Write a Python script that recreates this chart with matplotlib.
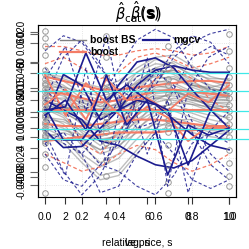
import matplotlib
matplotlib.use("Agg")
import matplotlib.pyplot as plt
from matplotlib.lines import Line2D

plt.rcParams['font.family'] = ['Liberation Sans', 'DejaVu Sans']

# ---------------- data ----------------
x_grid = [0.0, 0.1, 0.2, 0.3, 0.4, 0.5, 0.6, 0.7, 0.8, 0.9, 1.0]
lags = [1, 2, 3, 4, 5, 6, 7, 8, 9, 10]

grey_curves = [
    [1.5, 1.2, 0.6, 0.2, 0.6, 1.4, 1.9, 1.8, 1.3, 1.0, 0.9],
    [0.8, 0.5, 0.0, -0.4, 0.1, 0.9, 1.4, 1.3, 0.9, 0.7, 0.6],
    [-0.5, -0.8, -1.4, -1.8, -1.3, -0.4, 0.2, 0.3, 0.0, -0.2, -0.3],
    [0.2, -0.2, -1.0, -1.6, -1.0, 0.3, 1.1, 1.2, 0.8, 0.4, 0.3],
    [1.0, 0.9, 0.5, 0.3, 0.8, 1.8, 2.4, 2.2, 1.6, 1.1, 0.8],
    [-1.0, -1.3, -2.0, -2.6, -2.2, -1.3, -0.5, -0.3, -0.6, -0.9, -1.0],
    [0.4, 0.3, 0.1, 0.0, 0.2, 0.5, 0.7, 0.7, 0.5, 0.4, 0.4],
    [1.8, 1.4, 0.8, 0.5, 0.9, 1.6, 2.0, 1.7, 1.2, 1.1, 1.3],
    [-0.2, -0.6, -1.6, -2.4, -2.0, -0.9, 0.0, 0.4, 0.3, 0.0, -0.4],
    [0.6, 0.6, 0.4, 0.2, 0.3, 0.8, 1.2, 1.0, 0.6, 0.5, 0.5],
    [-1.2, -1.0, -1.3, -1.8, -1.6, -1.0, -0.6, -0.7, -1.0, -1.2, -1.3],
    [1.2, 0.8, -0.2, -1.0, -0.6, 0.6, 1.5, 1.6, 1.2, 0.9, 0.7],
    [0.0, -0.1, -0.5, -0.8, -0.4, 0.4, 0.9, 0.9, 0.6, 0.2, 0.0],
    [-0.8, -1.2, -2.2, -3.0, -2.8, -1.8, -0.8, -0.4, -0.4, -0.7, -0.9],
    [1.6, 1.5, 1.2, 1.0, 1.2, 1.8, 2.2, 2.1, 1.7, 1.5, 1.5],
    [0.3, 0.0, -0.6, -1.0, -0.6, 0.2, 0.8, 0.9, 0.7, 0.6, 0.7],
    [1.3, 1.0, 0.3, -0.3, 0.0, 1.0, 1.7, 1.9, 1.5, 1.2, 1.0],
    [0.9, 0.7, 0.2, -0.2, 0.2, 1.1, 1.8, 1.9, 1.4, 0.9, 0.6],
    [-0.3, -0.4, -0.8, -1.2, -0.9, -0.2, 0.4, 0.6, 0.4, 0.1, -0.1],
    [0.5, 0.2, -0.4, -0.9, -0.5, 0.5, 1.3, 1.5, 1.1, 0.8, 0.8],
    [1.1, 1.1, 0.9, 0.7, 0.9, 1.3, 1.6, 1.5, 1.2, 1.0, 1.0],
    [-0.7, -0.9, -1.1, -1.4, -1.1, -0.5, 0.0, 0.0, -0.3, -0.6, -0.8],
    [0.1, -0.3, -1.2, -2.0, -1.7, -0.6, 0.5, 0.9, 0.6, 0.2, 0.0],
    [1.4, 1.1, 0.4, 0.0, 0.4, 1.3, 2.0, 2.3, 1.9, 1.4, 1.1],
    [-0.1, 0.1, 0.2, 0.1, 0.3, 0.7, 1.0, 1.0, 0.8, 0.6, 0.5],
    [0.7, 0.3, -0.5, -1.3, -1.2, -0.2, 0.6, 0.8, 0.5, 0.3, 0.2],
    [-1.1, -1.5, -2.4, -3.2, -3.0, -2.0, -1.0, -0.6, -0.7, -1.0, -1.1],
    [1.7, 1.6, 1.3, 1.1, 1.4, 2.0, 2.5, 2.6, 2.1, 1.6, 1.4],
    [0.2, 0.2, 0.0, -0.2, 0.0, 0.4, 0.6, 0.5, 0.3, 0.2, 0.2],
    [-0.4, -0.5, -0.9, -1.4, -1.4, -0.8, -0.2, 0.1, -0.1, -0.4, -0.6],
]

circle_lags = [1, 4, 7, 10]
circle_vals = [
    [3.7, 3.4, 3.0, 2.6, 1.9, 1.7, 1.5, 1.3, 1.2, 1.0, 0.9, 0.7, 0.6, 0.4, 0.3, 0.1, 0.0, -0.2,
     -0.3, -0.5, -0.6, -0.8, -0.9, -1.1, -1.2, -1.4, -1.5, -2.0, -2.6, -3.8],
    [3.5, 2.5, 1.6, 1.3, 1.0, 0.8, 0.5, 0.3, 0.0, -0.3, -0.5, -0.8, -1.0, -1.5, -2.3, -3.0],
    [3.0, 2.0, 1.5, 1.2, 0.8, 0.4, 0.0, -0.4, -0.7, -1.0, -1.6, -2.5, -3.3, -3.8],
    [3.6, 2.8, 2.0, 1.6, 1.2, 0.9, 0.6, 0.3, 0.0, -0.3, -0.6, -0.9, -1.2, -1.8, -2.4, -3.0, -3.5],
]

cyan_levels = [1.77, 0.93, 0.0, -0.84, -1.3]

salmon_solid = [
    [0.05, 0.05, 0.05, 0.05, 0.05, 0.05, 0.05, 0.05, 0.05, 0.05, 0.05],
    [1.6, 1.4, 1.2, 1.0, 1.0, 1.1, 1.2, 1.3, 1.4, 1.4, 1.3],
    [-1.4, -1.3, -1.2, -1.1, -1.0, -1.0, -1.0, -0.9, -0.9, -0.8, -0.8],
    [0.9, 0.8, 0.6, 0.4, 0.5, 0.7, 0.9, 1.0, 0.9, 0.8, 0.7],
    [-0.6, -0.7, -0.7, -0.6, -0.5, -0.4, -0.4, -0.5, -0.6, -0.7, -0.7],
]
salmon_zig = [
    [1.7, -0.2, 1.3, 0.4, -0.5, 0.2, -0.3, -1.4, -0.7, -0.8],
    [0.3, 1.0, -0.4, 1.5, 0.5, 0.6, 0.0, 0.8, 0.4, 1.2],
]
salmon_dashed = [
    [2.2, 2.5, 2.0, 1.5, 1.8, 2.5, 2.7, 2.4, 2.0, 2.2, 2.5],
    [-2.0, -2.4, -2.8, -2.6, -2.0, -1.6, -1.8, -2.4, -2.8, -2.5, -2.0],
    [1.0, 0.0, -1.5, -2.0, -1.0, 0.5, 1.5, 2.0, 1.5, 0.5, 0.0],
    [3.0, 3.0, 2.8, 2.6, 2.6, 2.8, 2.9, 2.8, 2.6, 2.7, 3.0],
]

navy_solid = [
    [0.19, -1.35, -1.35, -0.19, 1.21, 2.28, 2.47, 2.0, 0.98, 0.05, -0.79],
    [-0.4, 1.7, 1.2, -0.4, 0.05, 1.2, 1.9, 2.1, 1.9, 1.8, 1.8],
    [-0.9, -1.7, -1.65, -0.8, 0.05, 0.5, 0.3, -0.4, -1.1, -1.6, -1.8],
    [0.5, 0.05, -0.4, -1.4, -1.6, -2.1, -2.5, -2.65, -2.3, -1.6, -0.9],
]
navy_zig = [
    [0.05, 0.19, 2.7, 0.51, 1.21, 0.51, -2.98, -0.65, -1.12, -0.79],
    [-0.19, 0.51, -0.88, 1.67, -0.65, 0.51, 0.05, -2.51, -0.19, 1.81],
]
navy_dashed = [
    [0.5, 2.5, 3.3, 2.2, 0.5, -0.8, -0.5, 1.0, 2.5, 3.0, 2.6],
    [-1.0, -2.8, -3.9, -3.0, -1.2, 0.8, 1.8, 1.2, -0.5, -2.0, -2.8],
    [2.0, 1.0, 0.0, 0.5, 2.0, 3.3, 3.8, 3.4, 2.0, 1.0, 0.8],
    [-2.0, -3.2, -3.5, -2.5, -2.8, -3.5, -3.9, -3.0, -1.5, -1.0, -1.5],
    [1.0, 0.2, -1.5, -2.5, -1.5, 0.0, 1.5, 2.8, 3.5, 3.2, 2.2],
    [-0.2, -1.5, -2.0, -1.0, 0.5, 1.6, 2.0, 1.0, -1.0, -2.5, -3.2],
    [2.8, 3.5, 3.2, 2.0, 1.0, 0.5, 1.2, 2.5, 3.2, 3.6, 3.8],
    [-1.5, -1.0, -2.0, -3.8, -3.5, -2.0, -1.0, -2.0, -3.2, -3.6, -3.2],
]
navy_dashed_zig = [
    [1.5, 3.0, 0.0, 3.5, -1.0, 2.5, -3.5, 1.0, 2.5, 3.0],
    [-1.5, -3.0, 2.0, -2.5, 1.5, -2.0, 0.5, -3.8, -1.0, 0.0],
]

x_ticks = [0.0, 0.2, 0.4, 0.6, 0.8, 1.0]
x_tick_labels = ["0.0", "0.2", "0.4", "0.6", "0.8", "1.0"]
lag_ticks = [2, 4, 6, 8, 10]
lag_tick_labels = ["2", "4", "6", "8", "10"]

y_sets = [
    ([3.16, 1.77, 0.51, -0.79, -2.19, -3.44], ["0.060", "0.040", "0.020", "0.000", "-0.020", "-0.040"]),
    ([3.67, 2.28, 0.93, -0.28, -1.72, -3.07], ["0.020", "50", "500", "0.005", "-4", "-0.06"]),
    ([3.6, 2.25, 1.07, -0.05, -1.21, -2.84], ["0", "60", "0.015", "5", "1", "-0.08"]),
]

navy = "#1c1c8f"
salmon = "#f47c66"
cyan = "#40e8e8"

# ---------------- figure ----------------
fig = plt.figure(figsize=(2.49, 2.49), dpi=100)
ax = fig.add_axes([38/249, 52/249, 198/249, 172/249])
xpad = 7/184
ax.set_xlim(-xpad, 1 + xpad)
ax.set_ylim(-4, 4)
ax2 = ax.twiny()
ax2.set_xlim(1 - 9*xpad, 10 + 9*xpad)

ax.grid(True, color="#dddddd", linestyle=":", linewidth=0.6)

for c in grey_curves:
    ax.plot(x_grid, c, color="#808080", alpha=0.5, lw=1.0)
for lv, vals in zip(circle_lags, circle_vals):
    ax2.plot([lv]*len(vals), vals, 'o', mfc='none', mec="#999999", ms=4, mew=0.7)

for c in salmon_dashed:
    ax.plot(x_grid, c, color=salmon, lw=0.9, ls=(0, (3, 2)))
for c in navy_dashed:
    ax.plot(x_grid, c, color=navy, lw=0.8, ls=(0, (3, 2)), alpha=0.85)
for c in navy_dashed_zig:
    ax2.plot(lags, c, color=navy, lw=0.8, ls=(0, (3, 2)), alpha=0.85)
for c in salmon_solid:
    ax.plot(x_grid, c, color=salmon, lw=1.5)
for c in salmon_zig:
    ax2.plot(lags, c, color=salmon, lw=1.3)
for c in navy_solid:
    ax.plot(x_grid, c, color=navy, lw=1.2)
for c in navy_zig:
    ax2.plot(lags, c, color=navy, lw=1.2)
for lv in cyan_levels:
    ax2.plot([0.6, 11.4], [lv, lv], color=cyan, lw=0.9, clip_on=False, zorder=5)

# axes styling (R-like)
for a in (ax, ax2):
    for s in a.spines.values():
        s.set_linewidth(0.8)
ax.set_xticks(x_ticks)
ax.set_xticklabels(x_tick_labels, fontsize=7.5)
ax.tick_params(axis='x', length=5, width=0.8, pad=6, color="#333333")
ax2.xaxis.set_ticks_position('bottom')
ax2.xaxis.set_label_position('bottom')
ax2.set_xticks(lag_ticks)
ax2.set_xticklabels(lag_tick_labels, fontsize=7.5)
ax2.tick_params(axis='x', length=5, width=0.8, pad=6, color="#333333")
ax2.spines['bottom'].set_visible(False)
ax2.spines['top'].set_visible(False)

ax.set_yticks([])
for i, (tv, tl) in enumerate(y_sets):
    ay = ax.twinx() if i > 0 else ax
    ay.set_ylim(-4, 4)
    ay.yaxis.set_ticks_position('left')
    ay.set_yticks(tv)
    ay.set_yticklabels(tl, rotation=90, va='center', fontsize=7)
    ay.tick_params(axis='y', length=5.5, width=0.8, pad=3, color="#666666")
    if i > 0:
        for s in ay.spines.values():
            s.set_visible(False)

# titles / labels
fig.text(138/249, 1 - 13/249, r"$\hat{\beta}_{\mathrm{cat}}(\mathbf{s})$", ha='center', va='center', fontsize=10.5)
fig.text(145/249, 1 - 12/249, r"$\hat{\beta}(\mathbf{s})$", ha='center', va='center', fontsize=10.5)
fig.text(137/249, 1 - 243/249, "relative price, s", ha='center', va='center', fontsize=7.5)
fig.text(137/249, 1 - 243/249, "lag, s", ha='center', va='center', fontsize=7.5)

# legend (R style, no box)
leg_items = [
    ("boost BS", "grey", 0.11, 0.915),
    ("boost", salmon, 0.11, 0.845),
    ("mgcv", navy, 0.53, 0.915),
]
for lab, col, lx, ly in leg_items:
    ax2.add_line(Line2D([lx, lx + 0.13], [ly, ly], transform=ax.transAxes, color=col,
                        lw=1.6 if col != "grey" else 1.0, zorder=6))
    ax2.text(lx + 0.155, ly, lab, transform=ax.transAxes, fontsize=7.5, fontweight='bold',
             va='center', ha='left', zorder=6)

fig.savefig("out.png", dpi=100)
